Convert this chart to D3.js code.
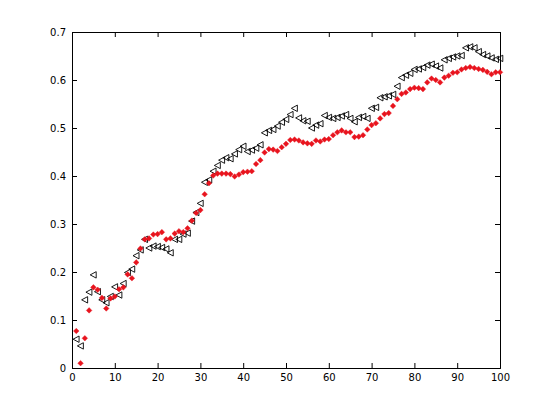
<!DOCTYPE html>
<html><head><meta charset="utf-8">
<script src="https://cdn.jsdelivr.net/npm/d3@7"></script>
<style>body{margin:0;background:#fff}svg{display:block}</style>
</head><body>
<svg id="c" width="553" height="414"></svg>
<script>
const xTicks = [0,10,20,30,40,50,60,70,80,90,100];
const yTicks = [0,0.1,0.2,0.3,0.4,0.5,0.6,0.7];
const redSeries = [0.077,0.010,0.062,0.120,0.168,0.163,0.146,0.124,0.145,0.149,
0.164,0.168,0.195,0.187,0.220,0.249,0.268,0.270,0.278,0.279,
0.283,0.268,0.270,0.280,0.285,0.283,0.291,0.307,0.323,0.329,
0.362,0.385,0.401,0.405,0.405,0.405,0.404,0.399,0.403,0.408,
0.409,0.410,0.425,0.433,0.449,0.456,0.455,0.452,0.460,0.467,
0.475,0.476,0.474,0.470,0.468,0.467,0.474,0.472,0.476,0.477,
0.485,0.491,0.495,0.491,0.491,0.481,0.482,0.485,0.497,0.506,
0.510,0.520,0.529,0.531,0.546,0.560,0.571,0.574,0.581,0.584,
0.583,0.581,0.595,0.603,0.600,0.595,0.605,0.609,0.615,0.616,
0.622,0.625,0.627,0.625,0.623,0.621,0.617,0.612,0.616,0.616];
const blackSeries = [0.060,0.046,0.142,0.158,0.194,0.159,0.142,0.136,0.149,0.169,
0.152,0.176,0.199,0.206,0.234,0.246,0.268,0.250,0.254,0.253,
0.251,0.248,0.240,0.268,0.268,0.279,0.281,0.306,0.324,0.343,
0.387,0.392,0.410,0.422,0.433,0.438,0.436,0.446,0.455,0.462,
0.451,0.454,0.458,0.465,0.490,0.495,0.497,0.504,0.512,0.518,
0.528,0.541,0.521,0.515,0.514,0.500,0.506,0.509,0.526,0.522,
0.520,0.522,0.525,0.528,0.520,0.513,0.522,0.524,0.520,0.541,
0.543,0.563,0.565,0.567,0.570,0.587,0.605,0.610,0.614,0.622,
0.623,0.626,0.631,0.633,0.629,0.625,0.642,0.645,0.648,0.650,
0.651,0.667,0.669,0.667,0.659,0.653,0.650,0.646,0.643,0.645];
const xIdx = d3.range(1, 101);

const svg = d3.select('#c');
const L = 72, R = 500, T = 32, B = 368;
const x = d3.scaleLinear().domain([0,100]).range([L,R]);
const y = d3.scaleLinear().domain([0,0.7]).range([B,T]);
const font = '"DejaVu Sans", "Liberation Sans", Arial, sans-serif';

svg.append('rect').attr('x',L).attr('y',T).attr('width',R-L).attr('height',B-T)
  .attr('fill','#fff');

const tl = 5;
const fmtY = d => d === 0 ? '0' : d3.format('.1f')(d);
const ax = svg.append('g').attr('transform',`translate(0,${B})`)
  .call(d3.axisBottom(x).tickValues(xTicks).tickSize(-tl).tickPadding(4).tickFormat(d3.format('d')));
const axT = svg.append('g').attr('transform',`translate(0,${T})`)
  .call(d3.axisTop(x).tickValues(xTicks).tickSize(-tl).tickFormat(''));
const ay = svg.append('g').attr('transform',`translate(${L},0)`)
  .call(d3.axisLeft(y).tickValues(yTicks).tickSize(-tl).tickPadding(6).tickFormat(fmtY));
const ayR = svg.append('g').attr('transform',`translate(${R},0)`)
  .call(d3.axisRight(y).tickValues(yTicks).tickSize(-tl).tickFormat(''));
[ax,axT,ay,ayR].forEach(g=>{
  g.select('.domain').attr('stroke','#000').attr('stroke-width',1);
  g.selectAll('.tick line').attr('stroke','#000');
  g.selectAll('text').attr('font-family',font).attr('font-size',10).attr('fill','#000');
});
ax.selectAll('text').attr('dy','0.9em');

const tri = 'M-3.2,0L2.8,-3.2L2.8,3.2Z';
const dia = 'M0,-2.8L2.8,0L0,2.8L-2.8,0Z';
svg.append('g').selectAll('path').data(blackSeries).join('path')
  .attr('d',tri)
  .attr('transform',(d,i)=>`translate(${x(xIdx[i])},${y(d)})`)
  .attr('fill','none').attr('stroke','#000').attr('stroke-width',0.9);
svg.append('g').selectAll('path').data(redSeries).join('path')
  .attr('d',dia)
  .attr('transform',(d,i)=>`translate(${x(xIdx[i])},${y(d)})`)
  .attr('fill','#e8141e').attr('stroke','#e8141e').attr('stroke-width',0.4);
</script>
</body></html>
